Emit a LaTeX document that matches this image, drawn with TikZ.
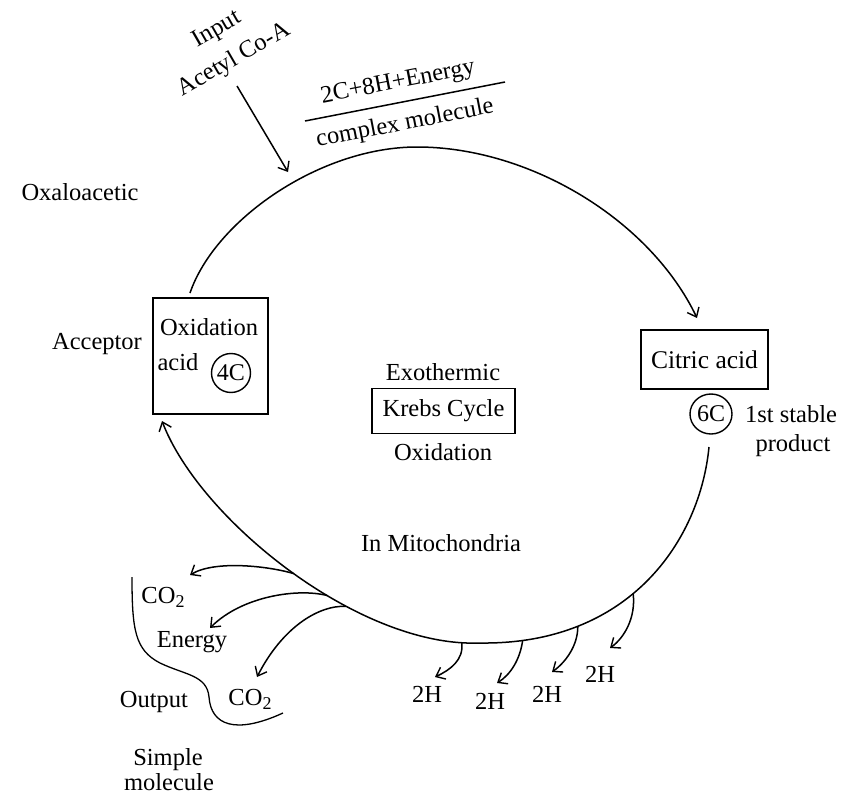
\documentclass[tikz,border=0pt]{standalone}
\usepackage{fontspec}
\setmainfont{Liberation Serif}
\usetikzlibrary{arrows.meta,shapes.geometric}
\newcommand{\subtwo}{\raisebox{-0.35ex}{\fontsize{18}{18}\selectfont 2}}
\begin{document}
\begin{tikzpicture}[x=1pt,y=-1pt,line width=1.5pt,
  lbl/.style={font=\fontsize{24.5}{26}\selectfont, inner sep=0pt},
  rbox/.style={draw, line width=1.6pt, inner sep=0pt},
  ring/.style={draw, circle, line width=1.4pt, inner sep=0pt, minimum size=39pt, font=\fontsize{24}{26}\selectfont},
  arr/.style={-{Straight Barb[length=8pt,width=13pt,line width=1.4pt]}},
]
\useasboundingbox (0,0) rectangle (860,803);

% input
\node[lbl, rotate=30, align=center, font=\fontsize{24.5}{35}\selectfont] (input) at (226,45) {Input\\Acetyl Co-A};
\coordinate (inA) at (237,86);
\coordinate (inB) at (288,172);
\draw[arr] (inA) -- (inB);

% fraction
\node[lbl, rotate=11] (num) at (398,83) {2C+8H+Energy};
\node[lbl, rotate=11] (den) at (405,124) {complex molecule};
\coordinate (fl) at (305,121);
\coordinate (fr) at (505,82);
\draw (fl) -- (fr);

% left labels
\node[lbl] (oxalo) at (80,192) {Oxaloacetic};
\node[lbl] (accept) at (97,344) {Acceptor};

% oxidation acid box
\node[rbox, minimum width=115pt, minimum height=116pt] (ox) at (210.5,356) {};
\node[lbl] (oxt) at (209,327) {Oxidation};
\node[lbl] (acid) at (178,362) {acid};
\node[ring] (fourc) at (231,373) {4C};

% citric acid
\node[rbox, minimum width=127pt, minimum height=59pt, font=\fontsize{25.5}{27}\selectfont] (citric) at (704.5,359.5) {Citric acid};
\node[ring, ellipse, minimum width=42pt, minimum height=40pt] (sixc) at (711,414) {6C};
\node[lbl] (stable) at (791,414) {1st stable};
\node[lbl] (product) at (793,446) {product};

% centre
\node[lbl] (exo) at (443,372) {Exothermic};
\node[rbox, minimum width=143pt, minimum height=45pt, font=\fontsize{24.5}{26}\selectfont] (krebs) at (443.5,411) {Krebs Cycle};
\node[lbl] (oxid) at (443,452) {Oxidation};
\node[lbl] (mito) at (441,543) {In Mitochondria};

% cycle
\coordinate (oxout) at (190,293);
\coordinate (top) at (417,147);
\coordinate (citin) at (697,318);
\draw[arr] (oxout) .. controls (215,220) and (320,147) .. (top)
  .. controls (530,147) and (650,220) .. (citin);

\coordinate (sixout) at (709,447);
\coordinate (bot) at (480,643);
\coordinate (oxin) at (162,421);
\draw[arr] (sixout) .. controls (700,540) and (630,645) ..
    coordinate[pos=0.56] (h4) coordinate[pos=0.75] (h3) coordinate[pos=0.9] (h2) (bot)
  .. controls (360,648) and (200,520) ..
    coordinate[pos=0.05] (h1) coordinate[pos=0.35] (m3) coordinate[pos=0.4] (m2) coordinate[pos=0.49] (m1) (oxin);

% 2H outputs
\coordinate (e1) at (435,677);
\coordinate (e2) at (497,683);
\coordinate (e3) at (552,672);
\coordinate (e4) at (610,648);
\draw[arr] (h1) .. controls (464,660) and (450,670) .. (e1);
\draw[arr] (h2) .. controls (520,660) and (510,675) .. (e2);
\draw[arr] (h3) .. controls (578,645) and (566,662) .. (e3);
\draw[arr] (h4) .. controls (636,618) and (624,638) .. (e4);
\node[lbl] (hh1) at (427,694) {2H};
\node[lbl] (hh2) at (490,701) {2H};
\node[lbl] (hh3) at (547,694) {2H};
\node[lbl] (hh4) at (600,674) {2H};

% CO2 / energy outputs
\coordinate (o1) at (190,575);
\coordinate (o2) at (210,628);
\coordinate (o3) at (257,677);
\draw[arr] (m1) .. controls (268,566) and (215,560) .. (o1);
\draw[arr] (m2) .. controls (298,588) and (242,596) .. (o2);
\draw[arr] (m3) .. controls (318,605) and (282,628) .. (o3);
\node[lbl] (co2a) at (163,597) {CO\subtwo};
\node[lbl] (energy) at (192,642) {Energy};
\node[lbl] (co2b) at (250,699) {CO\subtwo};

% bracket and output labels
\coordinate (br0) at (132,577);
\coordinate (br1) at (160,663);
\coordinate (br2) at (209,697);
\coordinate (br3) at (283,713);
\draw[line width=1.3pt] (br0) .. controls (132,630) and (135,650) .. (br1)
  .. controls (185,675) and (207,675) .. (br2)
  .. controls (211,725) and (235,735) .. (br3);
\node[lbl] (output) at (154,702) {Output};
\node[lbl] (simple) at (168,760) {Simple};
\node[lbl] (molec) at (169,782) {molecule};
\end{tikzpicture}
\end{document}
